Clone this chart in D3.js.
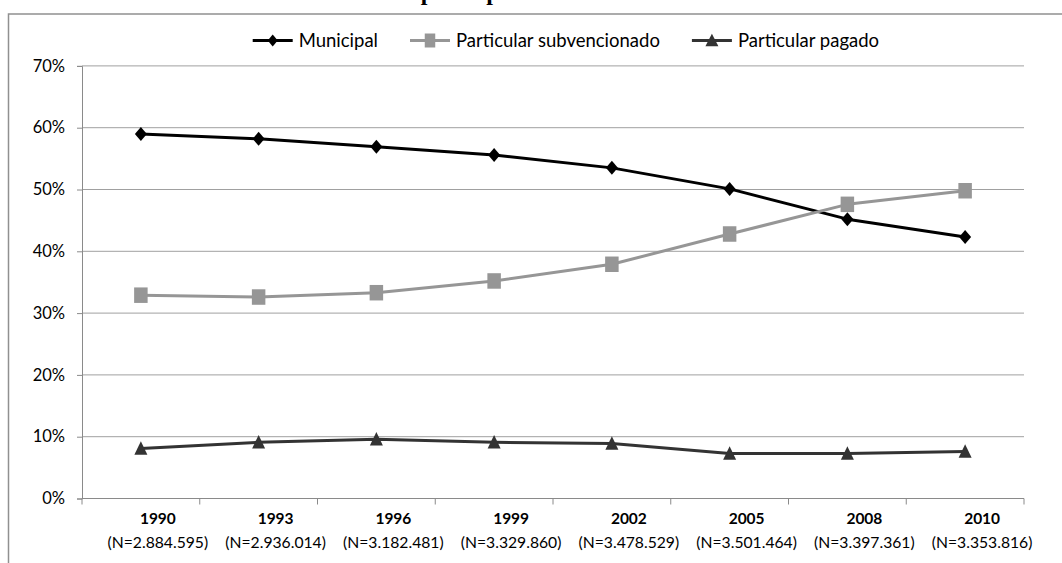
<!DOCTYPE html>
<html>
<head>
<meta charset="utf-8">
<script src="https://cdn.jsdelivr.net/npm/d3@7"></script>
<style>
  html, body { margin: 0; padding: 0; background: #fff; }
  svg { display: block; }
</style>
</head>
<body>
<svg id="chart" width="1062" height="563"></svg>
<script>
// Enrollment share by school administration type, 1990-2010
const years = ["1990", "1993", "1996", "1999", "2002", "2005", "2008", "2010"];
const totals = ["(N=2.884.595)", "(N=2.936.014)", "(N=3.182.481)", "(N=3.329.860)",
                "(N=3.478.529)", "(N=3.501.464)", "(N=3.397.361)", "(N=3.353.816)"];
const municipal     = [59.0, 58.2, 56.9, 55.6, 53.5, 50.1, 45.2, 42.3];
const subvencionado = [32.9, 32.6, 33.3, 35.2, 37.9, 42.8, 47.6, 49.8];
const pagado        = [8.1, 9.1, 9.6, 9.1, 8.9, 7.3, 7.3, 7.6];
const seriesNames = ["Municipal", "Particular subvencionado", "Particular pagado"];
const yTicks = [0, 10, 20, 30, 40, 50, 60, 70];
const titleText = "Matrícula por dependencia";

const series = [
  { name: seriesNames[0], values: municipal,     color: "#000000", marker: "diamond" },
  { name: seriesNames[1], values: subvencionado, color: "#969696", marker: "square" },
  { name: seriesNames[2], values: pagado,        color: "#333333", marker: "triangle" }
];

const FONT = "Lato, 'Open Sans', sans-serif";
const svg = d3.select("#chart");

// Outer frame (runs past the right and bottom edges)
svg.append("rect")
  .attr("x", 8.5).attr("y", 14).attr("width", 1100).attr("height", 600)
  .attr("fill", "none").attr("stroke", "#909090").attr("stroke-width", 1.5);

// Title sits above the frame
svg.append("text")
  .attr("x", 312).attr("y", 0)
  .attr("font-family", "'Liberation Serif', 'Times New Roman', serif")
  .attr("font-weight", "bold").attr("font-size", 24)
  .attr("fill", "#000")
  .text(titleText);

const x = d3.scaleBand().domain(years).range([82, 1024]).paddingInner(0).paddingOuter(0);
const y = d3.scaleLinear().domain([0, 70]).range([498.5, 65.9]);
const cx = d => x(d) + x.bandwidth() / 2;

// Horizontal gridlines
svg.append("g").selectAll("line").data(yTicks.filter(t => t > 0)).join("line")
  .attr("x1", 82).attr("x2", 1024)
  .attr("y1", d => y(d)).attr("y2", d => y(d))
  .attr("stroke", "#a0a0a0").attr("stroke-width", 1);

// Y axis
const yAxis = svg.append("g").attr("transform", "translate(82,0)")
  .call(d3.axisLeft(y).tickValues(yTicks).tickSize(5).tickPadding(12).tickFormat(d => d + "%"));
yAxis.select(".domain").attr("stroke", "#8a8a8a");
yAxis.selectAll(".tick line").attr("stroke", "#8a8a8a");
yAxis.selectAll(".tick text")
  .attr("font-family", FONT).attr("font-size", 16.5).attr("fill", "#000");

// X axis: baseline with ticks at category boundaries
svg.append("line")
  .attr("x1", 82).attr("x2", 1024).attr("y1", y(0)).attr("y2", y(0))
  .attr("stroke", "#8a8a8a").attr("stroke-width", 1);
const bounds = years.map(d => x(d)).concat([x(years[years.length - 1]) + x.bandwidth()]);
svg.append("g").selectAll("line").data(bounds).join("line")
  .attr("x1", d => d).attr("x2", d => d)
  .attr("y1", y(0)).attr("y2", y(0) + 6)
  .attr("stroke", "#8a8a8a").attr("stroke-width", 1);

// Category labels: year (bold) with N below
const labelDx = 17;
const labels = svg.append("g").selectAll("g").data(years).join("g")
  .attr("transform", d => `translate(${cx(d) + labelDx},0)`);
labels.append("text")
  .attr("y", 524).attr("text-anchor", "middle")
  .attr("font-family", FONT).attr("font-weight", "bold").attr("font-size", 15.5)
  .attr("fill", "#000").text(d => d);
labels.append("text")
  .attr("y", 547.5).attr("text-anchor", "middle")
  .attr("font-family", FONT).attr("font-size", 15.7)
  .attr("fill", "#000").text((d, i) => totals[i]);

// Marker shapes
function markerPath(type, w, h) {
  if (type === "diamond") return `M0,${-h/2}L${w/2},0L0,${h/2}L${-w/2},0Z`;
  if (type === "square") return `M${-w/2},${-h/2}H${w/2}V${h/2}H${-w/2}Z`;
  return `M0,${-h/2 - 1}L${w/2},${h/2}L${-w/2},${h/2}Z`;
}
const markerSize = { diamond: [12, 14], square: [13.5, 15.5], triangle: [13, 12.5] };

const line = d3.line().x(d => cx(d.year)).y(d => y(d.value));

series.forEach(s => {
  const pts = years.map((yr, i) => ({ year: yr, value: s.values[i] }));
  svg.append("path").datum(pts)
    .attr("d", line).attr("fill", "none")
    .attr("stroke", s.color).attr("stroke-width", 3).attr("stroke-linejoin", "round");
  const [w, h] = markerSize[s.marker];
  svg.append("g").selectAll("path").data(pts).join("path")
    .attr("transform", d => `translate(${cx(d.year)},${y(d.value)})`)
    .attr("d", markerPath(s.marker, w, h))
    .attr("fill", s.color);
});

// Legend
const legend = svg.append("g");
let lx = 252.7;
const ly = 40.5;
const legendMarker = { diamond: [10, 12], square: [10.5, 14], triangle: [13, 11.5] };
series.forEach(s => {
  const g = legend.append("g").attr("transform", `translate(${lx},${ly})`);
  g.append("line").attr("x1", 0).attr("x2", 40).attr("y1", 0).attr("y2", 0)
    .attr("stroke", s.color).attr("stroke-width", 3);
  const [w, h] = legendMarker[s.marker];
  g.append("path").attr("transform", "translate(20,0)")
    .attr("d", markerPath(s.marker, w, h)).attr("fill", s.color);
  const t = g.append("text").attr("x", 46).attr("y", 6.5)
    .attr("font-family", FONT).attr("font-size", 18.5).attr("fill", "#000")
    .text(s.name);
  lx += 46 + t.node().getComputedTextLength() + 32;
});
</script>
</body>
</html>
